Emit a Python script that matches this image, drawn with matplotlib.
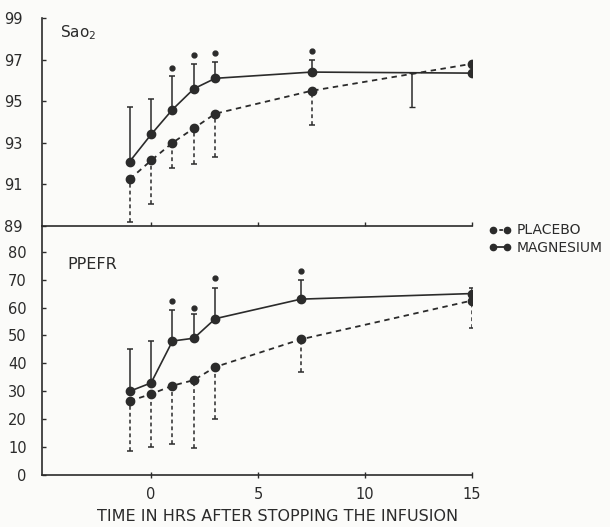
import numpy as np
import matplotlib
matplotlib.use('Agg')
import matplotlib.pyplot as plt
from matplotlib.lines import Line2D

# --- data ---------------------------------------------------------------
sao2_hours = [-1, 0, 1, 2, 3, 7.5, 15]
ppefr_hours = [-1, 0, 1, 2, 3, 7, 15]

# SaO2 (%)
mg_sao2 = [92.1, 93.4, 94.6, 95.6, 96.1, 96.4, 96.35]
mg_sao2_hi = [94.7, 95.1, 96.2, 96.8, 96.9, 97.0, np.nan]
mg_sao2_sig = [np.nan, np.nan, 96.6, 97.2, 97.3, 97.4, np.nan]
pl_sao2 = [91.25, 92.15, 93.0, 93.7, 94.4, 95.5, 96.8]
pl_sao2_lo = [89.2, 90.05, 91.8, 92.0, 92.3, 93.85, np.nan]
# lower bar of the 15 h magnesium point, drawn off to the left in the original
mg_sao2_lo15_hour = 12.2
mg_sao2_lo15 = 94.7

# PPEFR (%)
mg_ppefr = [30, 33, 48, 49, 56, 63, 65]
mg_ppefr_hi = [45, 48, 59, 57.5, 67, 70, 67]
mg_ppefr_sig = [np.nan, np.nan, 62.5, 60, 70.5, 73, np.nan]
pl_ppefr = [26.5, 29, 32, 34, 38.7, 48.6, 62.5]
pl_ppefr_lo = [8.5, 10, 11, 9.5, 20, 37, 52.5]

sao2_ticks = [89, 91, 93, 95, 97, 99]
ppefr_ticks = [0, 10, 20, 30, 40, 50, 60, 70, 80]
hour_ticks = [0, 5, 10, 15]

ink = '#2b2b2b'
W, H = 610, 527
fig = plt.figure(figsize=(W / 100, H / 100), dpi=100, facecolor='#fbfbf9')

left, right = 42 / W, 472 / W
ax_top = fig.add_axes([left, (H - 226) / H, right - left, (226 - 18) / H])
ax_bot = fig.add_axes([left, (H - 475) / H, right - left, (475 - 226) / H])
for ax in (ax_top, ax_bot):
    ax.set_facecolor('none')
    ax.set_xlim(-5.1, 15)
    ax.spines['top'].set_visible(False)
    ax.spines['right'].set_visible(False)
    for s in ('left', 'bottom'):
        ax.spines[s].set_color(ink)
        ax.spines[s].set_linewidth(1.2)
    ax.tick_params(colors=ink, labelcolor=ink, labelsize=10.5, width=1,
                   length=3, direction='in')
    ax.set_xticks(hour_ticks)


def draw(ax, x, mg, mg_hi, pl, pl_lo, sig):
    x = np.array(x, float)
    mg, pl = np.array(mg), np.array(pl)
    up = np.nan_to_num(np.array(mg_hi) - mg)
    dn = np.nan_to_num(pl - np.array(pl_lo))
    ax.errorbar(x, mg, yerr=[np.zeros_like(up), up], color=ink, lw=1.2,
                marker='o', ms=6, capsize=2.5, elinewidth=1.1,
                capthick=1.1, zorder=3)
    e = ax.errorbar(x, pl, yerr=[dn, np.zeros_like(dn)], color=ink, lw=1.3,
                    ls=(0, (3, 2.5)), marker='o', ms=6, capsize=2.5,
                    elinewidth=1.1, capthick=1.1, zorder=3)
    e[2][0].set_linestyle((0, (2.5, 2)))
    ax.plot(x, sig, 'o', color=ink, ms=3.5, ls='none')


ax_top.set_ylim(89, 99)
ax_top.set_yticks(sao2_ticks)
ax_top.tick_params(axis='x', labelbottom=False, direction='in')
ax_top.tick_params(axis='y', pad=14)
draw(ax_top, sao2_hours, mg_sao2, mg_sao2_hi, pl_sao2, pl_sao2_lo, mg_sao2_sig)
ax_top.errorbar([mg_sao2_lo15_hour], [mg_sao2[-1]],
                yerr=[[mg_sao2[-1] - mg_sao2_lo15], [0]],
                fmt='none', ecolor=ink, elinewidth=1.1, capsize=2.5)
ax_top.text(-4.25, 98.3, 'Sao$_2$', fontsize=11, color=ink, va='center')

ax_bot.set_ylim(0, 89.2)
ax_bot.set_yticks(ppefr_ticks)
ax_bot.tick_params(axis='y', pad=11)
ax_bot.tick_params(axis='x', direction='inout', length=5, pad=6)
draw(ax_bot, ppefr_hours, mg_ppefr, mg_ppefr_hi, pl_ppefr, pl_ppefr_lo,
     mg_ppefr_sig)
ax_bot.text(-3.9, 75.5, 'PPEFR', fontsize=11.5, color=ink, va='center')
ax_bot.set_xlabel('TIME IN HRS AFTER STOPPING THE INFUSION', fontsize=11.5,
                  color=ink, labelpad=8)
ax_bot.xaxis.set_label_coords((278 - 42) / 430, -0.135)

handles = [
    Line2D([], [], color=ink, lw=1.3, ls=(0, (2, 1.5)), marker='o', ms=4.5),
    Line2D([], [], color=ink, lw=1.3, marker='o', ms=4.5),
]
fig.legend(handles, ['PLACEBO', 'MAGNESIUM'], loc='upper left',
           bbox_to_anchor=(476 / W, 1 - 211 / H), frameon=False, numpoints=2,
           handlelength=1.6, handletextpad=0.4, labelspacing=0.25,
           fontsize=10, labelcolor=ink)

fig.savefig('out.png', dpi=100, facecolor=fig.get_facecolor())
